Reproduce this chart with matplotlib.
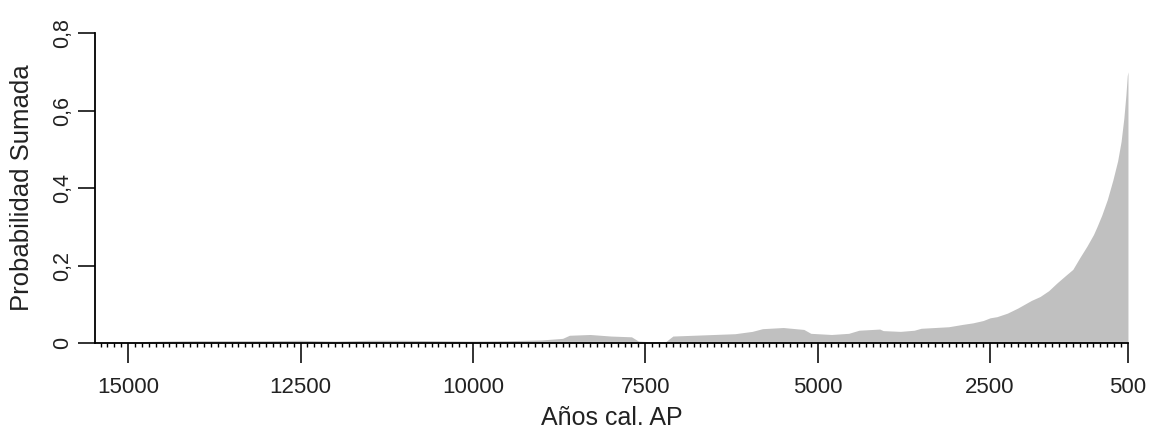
import matplotlib
matplotlib.use("Agg")
import matplotlib.pyplot as plt
from matplotlib.ticker import MultipleLocator

plt.rcParams['font.family'] = ['Liberation Sans', 'DejaVu Sans']

# summed probability (years cal BP)
years = [15500, 15000, 14500, 14000, 13500, 13000, 12500, 12000, 11500, 11000,
         10500, 10000, 9500, 9000, 8700, 8600, 8300, 8000, 7700, 7600,
         7400, 7200, 7100, 6800, 6500, 6200, 5950, 5800, 5500, 5200,
         5100, 4800, 4550, 4400, 4100, 4050, 3800, 3600, 3500, 3300,
         3100, 2900, 2750, 2600, 2500, 2400, 2250, 2100, 2000, 1900,
         1775, 1650, 1530, 1400, 1300, 1200, 1095, 1000, 950, 880,
         800, 720, 650, 600, 560, 530, 510, 500]
prob = [0.001, 0.003, 0.005, 0.006, 0.006, 0.006, 0.007, 0.005, 0.007, 0.007,
        0.006, 0.005, 0.006, 0.008, 0.012, 0.020, 0.022, 0.018, 0.016, 0.005,
        0.003, 0.004, 0.018, 0.020, 0.022, 0.024, 0.030, 0.037, 0.040, 0.035,
        0.025, 0.022, 0.025, 0.033, 0.036, 0.032, 0.030, 0.033, 0.038, 0.040,
        0.042, 0.048, 0.052, 0.058, 0.065, 0.068, 0.077, 0.090, 0.100, 0.110,
        0.120, 0.135, 0.155, 0.175, 0.190, 0.220, 0.250, 0.280, 0.300, 0.330,
        0.370, 0.420, 0.470, 0.520, 0.580, 0.640, 0.690, 0.700]

xticks = [15000, 12500, 10000, 7500, 5000, 2500, 500]
yticks = [0, 0.2, 0.4, 0.6, 0.8]
ylabels = ['0', '0,2', '0,4', '0,6', '0,8']

fig = plt.figure(figsize=(11.49, 4.43), dpi=100)
ax = fig.add_axes([0.0827, 0.2257, 0.8990, 0.6998])

ax.fill_between(years, 0, prob, color='#c0c0c0', linewidth=0)

ax.set_xlim(15480, 500)
ax.set_ylim(0, 0.8)

for s in ['top', 'right']:
    ax.spines[s].set_visible(False)
for s in ['left', 'bottom']:
    ax.spines[s].set_linewidth(1.3)

ax.set_xticks(xticks)
ax.set_xticklabels([str(t) for t in xticks])
ax.xaxis.set_minor_locator(MultipleLocator(100))
ax.set_yticks(yticks)
ax.set_yticklabels(ylabels, rotation=90, va='center')

ax.tick_params(axis='x', which='major', length=14.5, width=1.3, pad=10, labelsize=16, colors='#222222')
ax.tick_params(axis='x', which='minor', length=3, width=1.0)
ax.tick_params(axis='y', which='major', length=12, width=1.3, pad=4, labelsize=15.5, colors='#222222')

ax.set_xlabel('Años cal. AP', fontsize=18, color='#222222', labelpad=6)
ax.set_ylabel('Probabilidad Sumada', fontsize=18.5, color='#222222', labelpad=13)

fig.savefig('out.png', dpi=100)
